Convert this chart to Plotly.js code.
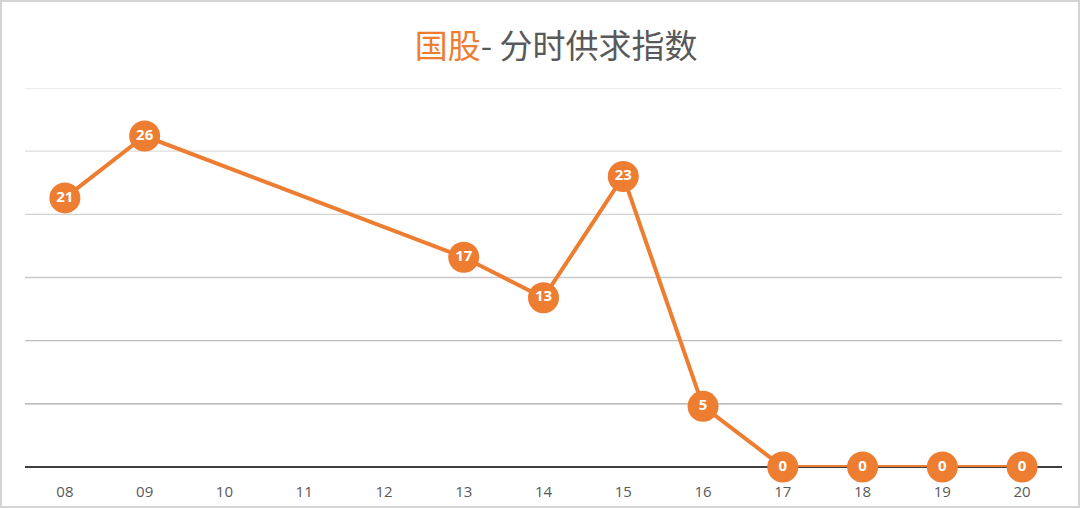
<!DOCTYPE html>
<html>
<head>
<meta charset="utf-8">
<script src="https://cdn.plot.ly/plotly-3.0.1.min.js"></script>
<style>
  html, body { margin: 0; padding: 0; background: #fff; }
  #chart { width: 1080px; height: 508px; box-sizing: border-box; border: 2px solid #d4d4d4; }
</style>
</head>
<body>
<div id="chart"></div>
<script>
// hours of the day and the supply/demand index (10-12 have no value)
const hours = ['08', '09', '10', '11', '12', '13', '14', '15', '16', '17', '18', '19', '20'];
const index = [21.3, 26.2, null, null, null, 16.6, 13.4, 23.0, 4.8, 0, 0, 0, 0];

const orange = '#ED7D31';

const trace = {
    type: 'scatter',
    mode: 'lines+markers+text',
    x: hours,
    y: index,
    connectgaps: true,
    line: {color: orange, width: 4},
    marker: {color: orange, size: 31},
    text: index.map(v => v === null ? '' : String(Math.round(v))),
    textposition: 'middle center',
    textfont: {family: 'Open Sans, Noto Sans, sans-serif', size: 15, color: '#fff', weight: 'bold'},
    cliponaxis: false,
    hoverinfo: 'x+y'
};

// gridlines get darker toward the bottom
let grid = [];
const gridColors = {5: '#a9a9a9', 10: '#bdbdbd', 15: '#c9c9c9', 20: '#d4d4d4', 25: '#dddddd', 30: '#e6e6e6'};
for (let v = 5; v <= 30; v += 5) {
    grid.push({
        type: 'line', xref: 'paper', yref: 'y', x0: 0, x1: 1, y0: v, y1: v,
        line: {color: gridColors[v], width: 1.3}, layer: 'below'
    });
}

const layout = {
    width: 1076,
    height: 504,
    margin: {l: 23, r: 16, t: 86, b: 39},
    paper_bgcolor: '#fff',
    plot_bgcolor: '#fff',
    showlegend: false,
    title: {
        text: '<span style="color:' + orange + '">国股</span>- 分时供求指数',
        font: {family: 'Noto Sans CJK SC, sans-serif', size: 33, color: '#595959'},
        x: 0.515, xanchor: 'center', y: 0.912, yanchor: 'middle'
    },
    xaxis: {
        type: 'category',
        range: [-0.5, 12.5],
        showgrid: false,
        showline: false,
        zeroline: false,
        ticks: '',
        ticklabelstandoff: 14,
        tickfont: {family: 'Open Sans, Noto Sans, sans-serif', size: 15, color: '#595959'}
    },
    yaxis: {
        range: [0, 30],
        showgrid: false,
        showticklabels: false,
        zeroline: true,
        zerolinecolor: '#404040',
        zerolinewidth: 2,
        fixedrange: true
    },
    shapes: grid
};

Plotly.newPlot('chart', [trace], layout, {displayModeBar: false, staticPlot: true});
</script>
</body>
</html>
